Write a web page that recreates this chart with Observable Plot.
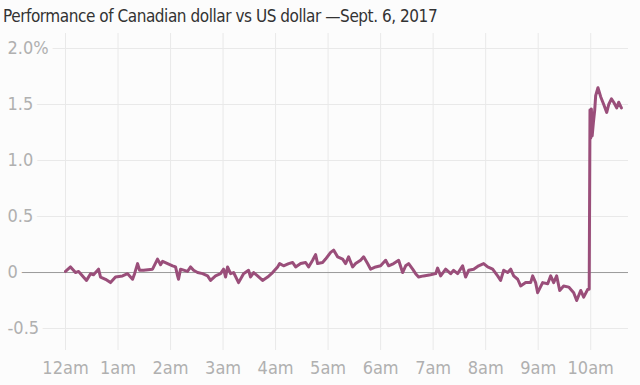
<!DOCTYPE html>
<html><head><meta charset="utf-8">
<script src="https://cdn.jsdelivr.net/npm/d3@7"></script>
<script src="https://cdn.jsdelivr.net/npm/@observablehq/plot@0.6"></script>
<style>
html,body{margin:0;padding:0;background:#fcfcfc;}
#title{font-family:"DejaVu Sans Condensed",sans-serif;font-size:17px;letter-spacing:-0.45px;color:#333;height:30px;line-height:32px;padding-left:3px;white-space:nowrap;}
</style></head><body>
<div id="title">Performance of Canadian dollar vs US dollar —Sept. 6, 2017</div>
<div id="chart"></div>
<script>
const hourTicks = [0,1,2,3,4,5,6,7,8,9,10];
const hourLabels = ["12am","1am","2am","3am","4am","5am","6am","7am","8am","9am","10am"];
const yTicks = [-0.5,0,0.5,1.0,1.5,2.0];
const yLabels = ["-0.5","0","0.5","1.0","1.5","2.0%"];

// minutes since midnight (Sept. 6, 2017)
const minutes = [0,5.7,9.1,11.4,14.9,24,28.6,32,37.7,40,45.7,51.4,57.1,65.1,70.9,76.6,78.9,82.3,84.6,89.1,99.4,105.1,108.6,110.9,116.6,122.3,125.7,128,129.1,131.4,139.4,142.9,146.3,
150.9,156.6,162.3,165.7,171.4,177.1,180.6,182.9,185.1,188.6,192,197.7,203.4,209.1,211.4,214.9,219.4,225.1,230.9,236.6,242.3,244.6,249.1,254.9,259.4,262.9,268.6,274.3,277.7,282.3,285.7,288,293.7,
297.1,302.9,306.3,310.9,316.6,320,323.4,328,331.4,337.1,340.6,345.1,348.6,354.3,360,365.7,369.1,374.9,380.6,385.1,388.6,392,396.6,400,403.4,409.1,417.1,422.9,425.1,428.6,434.3,440,
443.4,448,453.7,457.1,460.6,466.3,472,477.7,482.3,488,493.7,497.1,500.6,505.1,508.6,512,516.6,520,525.7,531.4,533.7,537.1,539.4,545.1,550.9,554.3,557.7,561.1,564.6,569.1,574.9,580.6,584,588.6,592,596.6,598.3,
599.2,600,600.8,601.7,603.1,604.6,605.7,608.3,611.4,614.9,618.3,620.6,623.7,626.3,629.7,632,635.1];
// % change of CAD vs USD
const change = [0.01,0.05,0.02,0.00,0.01,-0.07,-0.01,-0.02,0.03,-0.04,-0.06,-0.09,-0.04,-0.03,-0.01,-0.06,-0.01,0.08,0.02,0.02,0.03,0.12,0.07,0.10,0.08,0.06,0.05,-0.03,-0.06,0.03,0.01,0.05,0.02,
0.0,-0.01,-0.03,-0.07,-0.03,-0.01,0.03,-0.04,0.05,-0.01,0.0,-0.09,-0.01,0.02,-0.04,0.0,-0.03,-0.07,-0.04,0.0,0.05,0.08,0.06,0.08,0.09,0.05,0.08,0.09,0.05,0.11,0.16,0.08,0.09,
0.12,0.18,0.20,0.14,0.12,0.08,0.14,0.05,0.08,0.11,0.14,0.08,0.03,0.05,0.06,0.11,0.06,0.08,0.11,0.0,0.06,0.08,0.03,-0.01,-0.04,-0.03,-0.02,-0.01,0.04,-0.03,0.03,-0.01,
0.02,-0.01,0.06,-0.04,0.02,0.03,0.06,0.08,0.05,0.03,-0.03,-0.07,0.02,0.0,0.03,-0.03,-0.06,-0.12,-0.09,-0.09,-0.03,-0.09,-0.18,-0.09,-0.10,-0.03,-0.09,-0.03,-0.16,-0.12,-0.13,-0.18,-0.25,-0.16,-0.22,-0.15,-0.15,
1.45,1.20,1.46,1.22,1.34,1.45,1.58,1.65,1.57,1.50,1.43,1.50,1.55,1.52,1.47,1.52,1.47];

const data = minutes.map((m, i) => ({hour: m / 60, value: change[i]}));
const bg = "#fcfcfc";
const font = '"DejaVu Sans Condensed",sans-serif';

const chart = Plot.plot({
  width: 640,
  height: 355,
  marginTop: 3,
  marginBottom: 35,
  marginLeft: 7,
  marginRight: 12,
  style: {background: bg, fontFamily: font, overflow: "visible"},
  x: {domain: [-1.105, 10.72]},
  y: {domain: [-0.696, 2.134], axis: null},
  marks: [
    Plot.ruleX(hourTicks, {stroke: "#e9e9e9", strokeWidth: 1}),
    Plot.ruleY(yTicks.filter(d => d !== 0), {stroke: "#e9e9e9", strokeWidth: 1}),
    Plot.ruleY([0], {stroke: "#9a9a9a", strokeWidth: 1}),
    Plot.line(data, {x: "hour", y: "value", stroke: "#9a4e7a", strokeWidth: 3, strokeLinejoin: "round"}),
    Plot.text(yTicks, {y: d => d, text: (d, i) => yLabels[i], frameAnchor: "left", textAnchor: "start",
      fill: "#b0b0b0", stroke: bg, strokeWidth: 10, fontSize: 18}),
    Plot.axisX(hourTicks, {tickSize: 0, tickPadding: 11, fontSize: 18, fill: "#b0b0b0",
      tickFormat: d => hourLabels[hourTicks.indexOf(d)], label: null})
  ]
});
document.getElementById("chart").appendChild(chart);
</script>
</body></html>
